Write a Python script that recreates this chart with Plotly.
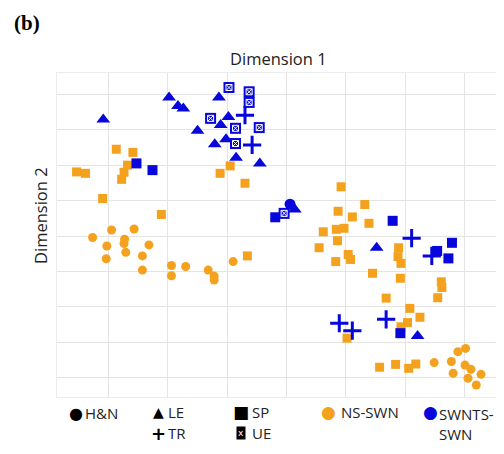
import plotly.graph_objects as go

# ---------------- data (MDS coordinates) ----------------
# NS-SWN group (orange)
ns_sp_x = [-2.87, -2.59, -2.68, -2.74, -2.78, -3.54, -3.39, -3.10, -2.11, -0.95, -1.12, -0.70,
           -0.66, 0.92, 1.32, 0.87, 1.11, 1.39, 0.62, 0.84, 0.97, 0.86, 0.55, 1.04, 1.08, 0.83,
           1.45, 1.89, 1.88, 1.93, 1.92, 2.61, 2.62, 1.68, 2.55, 2.08, 2.25, 2.04, 1.93, 1.02,
           1.57, 1.84, 2.06, 2.18]
ns_sp_y = [2.45, 2.36, 2.00, 1.80, 1.60, 1.81, 1.77, 1.06, 0.61, 1.98, 1.77, 1.49,
           -0.56, 1.39, 0.89, 0.70, 0.54, 0.36, 0.12, 0.19, 0.22, -0.13, -0.33, -0.52, -0.66, -0.72,
           -1.05, -0.33, -0.58, -0.77, -1.19, -1.29, -1.45, -1.75, -1.74, -2.04, -2.29, -2.44, -2.56, -2.88,
           -3.70, -3.62, -3.73, -3.61]
ns_hn_x = [-3.27, -2.95, -2.57, -2.73, -2.74, -3.03, -2.32, -3.04, -2.71, -2.43, -2.43, -1.94,
           -1.94, -1.70, -1.32, -1.22, -1.22, -0.90, 2.49, 2.78, 2.89, 3.02, 3.01, 3.11,
           2.81, 3.06, 3.28, 3.20]
ns_hn_y = [-0.04, 0.17, 0.20, -0.09, -0.21, -0.28, -0.25, -0.64, -0.46, -0.56, -0.96, -0.83,
           -1.12, -0.86, -0.96, -1.13, -1.24, -0.72, -3.57, -3.54, -3.26, -3.17, -3.64, -3.76,
           -3.87, -4.01, -3.90, -4.20]

# SWNTS-SWN group (blue)
sw_sp_x = [-2.53, -2.26, -0.19, 1.79, 2.79, 2.54, 2.73, 1.92]
sw_sp_y = [2.05, 1.86, 0.53, 0.43, -0.19, -0.42, -0.63, -2.74]
sw_le_x = [-3.09, -1.98, -1.83, -1.74, -1.14, -0.98, -1.50, -1.11, -1.21, -1.02, -0.85, -0.45,
           0.14, 1.52, 2.21]
sw_le_y = [3.29, 3.91, 3.67, 3.60, 3.91, 3.36, 2.97, 3.13, 2.59, 2.73, 2.21, 2.05,
           0.75, -0.33, -2.82]
sw_ue_x = [-0.97, -0.63, -0.63, -1.28, -0.86, -0.46, -0.86, -0.04]
sw_ue_y = [4.19, 4.07, 3.77, 3.32, 3.04, 3.06, 2.61, 0.64]
sw_tr_x = [-0.70, -0.58, 2.11, 2.45, 0.89, 1.11, 1.68]
sw_tr_y = [3.41, 2.57, -0.06, -0.56, -2.46, -2.67, -2.35]
sw_hn_x = [0.06]
sw_hn_y = [0.90]

x_grid = [-3, -2, -1, 0, 1, 2, 3]
y_grid = [-4, -3, -2, -1, 0, 1, 2, 3, 4]

legend_shapes = ["H&N", "LE", "TR", "SP", "UE"]
legend_groups = ["NS-SWN", "SWNTS-SWN"]

ORANGE = "#f4a21d"
BLUE = "#0707dc"

fig = go.Figure()

fig.add_trace(go.Scatter(x=ns_sp_x, y=ns_sp_y, mode="markers",
                         marker=dict(symbol="square", size=9, color=ORANGE, line=dict(width=0))))
fig.add_trace(go.Scatter(x=ns_hn_x, y=ns_hn_y, mode="markers",
                         marker=dict(symbol="circle", size=9, color=ORANGE, line=dict(width=0))))
fig.add_trace(go.Scatter(x=sw_sp_x, y=sw_sp_y, mode="markers",
                         marker=dict(symbol="square", size=10, color=BLUE, line=dict(width=0))))
fig.add_trace(go.Scatter(x=sw_hn_x, y=sw_hn_y, mode="markers",
                         marker=dict(symbol="circle", size=11, color=BLUE, line=dict(width=0))))
fig.add_trace(go.Scatter(x=sw_le_x, y=sw_le_y, mode="markers",
                         marker=dict(symbol="triangle-up", size=12, color=BLUE, line=dict(width=0))))
fig.add_trace(go.Scatter(x=sw_ue_x, y=sw_ue_y, mode="markers",
                         marker=dict(symbol="square", size=11, color=BLUE, line=dict(width=0))))
fig.add_trace(go.Scatter(x=sw_ue_x, y=sw_ue_y, mode="markers",
                         marker=dict(symbol="square-x-open", size=6, color="white",
                                     line=dict(width=1, color="white"))))
fig.add_trace(go.Scatter(x=sw_tr_x, y=sw_tr_y, mode="markers",
                         marker=dict(symbol="cross-thin", size=13, color=BLUE,
                                     line=dict(width=3, color=BLUE))))

axis_common = dict(showticklabels=False, ticks="", showgrid=True, gridcolor="#e4e4e4",
                   gridwidth=1, zeroline=False, showline=True, linecolor="#ececec",
                   linewidth=1, mirror=True, fixedrange=True)

# the page adds an 8px body margin, so the figure is sized/offset to compensate
fig.update_layout(
    width=496, height=446,
    margin=dict(l=49, r=4, t=65, b=57, pad=0),
    paper_bgcolor="white", plot_bgcolor="white",
    showlegend=False,
    font=dict(family="Open Sans", color="#222222", size=14),
    xaxis=dict(range=[-3.87, 3.60], tickvals=x_grid, **axis_common),
    yaxis=dict(range=[-4.54, 4.60], tickvals=y_grid, **axis_common),
)

# reference-pixel -> paper helper for layout text
L, R, T, B = 57, 500, 73, 397
def px(xp):
    return (xp - L) / (R - L)
def py(yp):
    return (B - yp) / (B - T)

ann = []
ann.append(dict(text="<b>(b)</b>", x=px(13), y=py(23), xanchor="left", yanchor="middle",
                borderpad=0,
                font=dict(family="Liberation Serif", size=21, color="black")))
ann.append(dict(text="Dimension 1", x=0.5, y=py(58), xanchor="center", yanchor="middle",
                font=dict(family="Open Sans", size=16.5, color="#222222")))
ann.append(dict(text="Dimension 2", x=px(40), y=py(216), xanchor="center", yanchor="middle",
                textangle=-90, font=dict(family="Open Sans", size=16.5, color="#222222")))

# legend keys
sym_font = dict(family="DejaVu Sans", color="black")
ann.append(dict(text="●", x=px(76), y=py(413), xanchor="center", yanchor="middle",
                font=dict(size=16, **sym_font)))
ann.append(dict(text="▲", x=px(158), y=py(412), xanchor="center", yanchor="middle",
                font=dict(size=14, **sym_font)))
ann.append(dict(text="<b>+</b>", x=px(158), y=py(433), xanchor="center", yanchor="middle",
                font=dict(size=18, **sym_font)))
ann.append(dict(text="■", x=px(241), y=py(412), xanchor="center", yanchor="middle",
                font=dict(size=17, **sym_font)))
ann.append(dict(text="x", x=px(241), y=py(433), xanchor="center", yanchor="middle",
                bgcolor="black", borderpad=1,
                font=dict(family="DejaVu Sans", size=9, color="white")))
ann.append(dict(text="●", x=px(328), y=py(412), xanchor="center", yanchor="middle",
                font=dict(size=17, family="DejaVu Sans", color=ORANGE)))
ann.append(dict(text="●", x=px(430), y=py(412), xanchor="center", yanchor="middle",
                font=dict(size=17, family="DejaVu Sans", color=BLUE)))

lab_font = dict(family="Open Sans", size=15, color="#222222")
ann.append(dict(text=legend_shapes[0], x=px(83), y=py(413), xanchor="left", yanchor="middle", font=lab_font))
ann.append(dict(text=legend_shapes[1], x=px(166), y=py(412), xanchor="left", yanchor="middle", font=lab_font))
ann.append(dict(text=legend_shapes[2], x=px(166), y=py(433), xanchor="left", yanchor="middle", font=lab_font))
ann.append(dict(text=legend_shapes[3], x=px(250), y=py(412), xanchor="left", yanchor="middle", font=lab_font))
ann.append(dict(text=legend_shapes[4], x=px(250), y=py(433), xanchor="left", yanchor="middle", font=lab_font))
ann.append(dict(text=legend_groups[0], x=px(339), y=py(412), xanchor="left", yanchor="middle", font=lab_font))
ann.append(dict(text="SWNTS-<br>SWN", x=px(437), y=py(402), xanchor="left", yanchor="top",
                align="left", font=lab_font))

for a in ann:
    a.update(xref="paper", yref="paper", showarrow=False)
fig.update_layout(annotations=ann)

fig.write_html("out.html")
